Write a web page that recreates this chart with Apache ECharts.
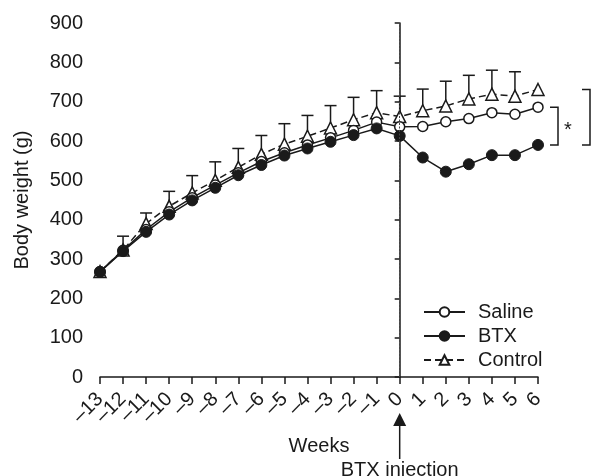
<!DOCTYPE html>
<html>
<head>
<meta charset="utf-8">
<script src="https://cdn.jsdelivr.net/npm/echarts@6/dist/echarts.min.js"></script>
<style>
  html, body { margin: 0; padding: 0; background: #fff; }
  #chart { width: 595px; height: 476px; }
</style>
</head>
<body>
<div id="chart"></div>
<script>
// weeks relative to BTX injection
const weeks = [-13, -12, -11, -10, -9, -8, -7, -6, -5, -4, -3, -2, -1, 0, 1, 2, 3, 4, 5, 6]
const saline = [268, 322, 375, 420, 456, 488, 519, 548, 570, 590, 608, 627, 648, 636, 637, 649, 657, 672, 668, 686]
const btx = [267, 320, 369, 413, 449, 481, 513, 539, 563, 581, 598, 615, 632, 613, 558, 522, 541, 564, 564, 590]
const control = [268, 323, 390, 434, 468, 500, 533, 566, 592, 612, 633, 654, 672, 662, 677, 689, 707, 719, 714, 731]
// top of the error bar for control (null = not drawn)
const controlTop = [null, 358, 417, 472, 512, 547, 581, 614, 644, 665, 690, 711, 728, 714, 732, 752, 767, 780, 776, null]
const yTicks = [0, 100, 200, 300, 400, 500, 600, 700, 800, 900]
const injectionWeek = 0

const font = 'Liberation Sans, Arial, sans-serif'
const black = '#1a1a1a'

const chart = echarts.init(document.getElementById('chart'))

const pts = arr => weeks.map((w, i) => [w, arr[i]])
const fmtWeek = v => (v < 0 ? '\u2013' + (-v) : String(v))

// shared label style for the week axis
const weekLabel = {
  rotate: 45,
  margin: 19,
  fontSize: 20,
  lineHeight: 12,
  color: black,
  fontFamily: font,
  hideOverlap: false
}

const option = {
  animation: false,
  textStyle: { fontFamily: font, color: black },
  grid: { left: 100, right: 57, top: 23, bottom: 99 },
  legend: {
    orient: 'vertical',
    left: 418,
    top: 297,
    itemWidth: 41,
    itemHeight: 12,
    itemGap: 4,
    data: ['Saline', 'BTX', 'Control'],
    textStyle: { fontSize: 20, color: black, fontFamily: font, padding: [0, 0, 0, 8], lineHeight: 20 }
  },
  xAxis: [
    {
      type: 'value',
      position: 'bottom',
      min: weeks[0],
      max: weeks[weeks.length - 1],
      interval: 1,
      name: 'Weeks',
      nameLocation: 'middle',
      nameGap: 59,
      nameTextStyle: { fontSize: 20, color: black, fontFamily: font },
      splitLine: { show: false },
      axisLine: { lineStyle: { color: black, width: 1.5 } },
      axisTick: { length: 7, lineStyle: { color: black, width: 1.5 } },
      axisLabel: Object.assign({}, weekLabel, {
        showMinLabel: true,
        showMaxLabel: true,
        formatter: v => (v === weeks[1] ? '' : fmtWeek(v))
      })
    },
    {
      // second label row so that the second week label is not dropped as overlapping
      type: 'value',
      position: 'bottom',
      min: weeks[0],
      max: weeks[weeks.length - 1],
      interval: 1,
      splitLine: { show: false },
      axisLine: { show: false },
      axisTick: { show: false },
      axisLabel: Object.assign({}, weekLabel, {
        formatter: v => (v === weeks[1] ? fmtWeek(v) : '')
      })
    }
  ],
  yAxis: {
    type: 'value',
    min: yTicks[0],
    max: yTicks[yTicks.length - 1],
    interval: 100,
    name: 'Body weight (g)',
    nameLocation: 'middle',
    nameGap: 68,
    nameTextStyle: { fontSize: 20, color: black, fontFamily: font },
    splitLine: { show: false },
    axisLine: { show: true, lineStyle: { color: black, width: 1.5 } },
    axisTick: { show: true, length: 5, lineStyle: { color: black, width: 1.5 } },
    axisLabel: { fontSize: 20, color: black, fontFamily: font, margin: 17 }
  },
  series: [
    {
      name: 'ControlErr',
      type: 'custom',
      encode: { x: 0, y: 1 },
      z: 1,
      data: weeks.map((w, i) => [w, control[i], controlTop[i]]).filter(d => d[2] != null),
      renderItem: (params, api) => {
        const p0 = api.coord([api.value(0), api.value(1)])
        const p1 = api.coord([api.value(0), api.value(2)])
        const style = { stroke: black, lineWidth: 1.5 }
        return {
          type: 'group',
          children: [
            { type: 'line', shape: { x1: p0[0], y1: p0[1], x2: p1[0], y2: p1[1] }, style },
            { type: 'line', shape: { x1: p1[0] - 6, y1: p1[1], x2: p1[0] + 6, y2: p1[1] }, style }
          ]
        }
      }
    },
    {
      name: 'Control',
      type: 'line',
      z: 2,
      data: pts(control),
      symbol: 'triangle',
      symbolSize: 12,
      lineStyle: { color: black, width: 1.5, type: [7, 4] },
      itemStyle: { color: '#fff', borderColor: black, borderWidth: 1.5 }
    },
    {
      name: 'Saline',
      type: 'line',
      z: 3,
      data: pts(saline),
      symbol: 'circle',
      symbolSize: 10,
      lineStyle: { color: black, width: 1.5 },
      itemStyle: { color: '#fff', borderColor: black, borderWidth: 1.5 }
    },
    {
      name: 'BTX',
      type: 'line',
      z: 4,
      data: pts(btx),
      symbol: 'circle',
      symbolSize: 11,
      lineStyle: { color: black, width: 1.5 },
      itemStyle: { color: black, borderColor: black, borderWidth: 1 },
      markLine: {
        silent: true,
        symbol: 'none',
        label: { show: false },
        lineStyle: { color: '#444', width: 1, type: [2, 1.5] },
        data: [{ xAxis: injectionWeek }]
      }
    },
    {
      // significance brackets at the last week
      name: 'Brackets',
      type: 'custom',
      encode: { x: 0, y: 1 },
      z: 5,
      data: [[weeks[weeks.length - 1], saline[saline.length - 1], btx[btx.length - 1], control[control.length - 1]]],
      renderItem: (params, api) => {
        const x = api.value(0)
        const pS = api.coord([x, api.value(1)])
        const pB = api.coord([x, api.value(2)])
        const pC = api.coord([x, api.value(3)])
        const style = { stroke: black, lineWidth: 1.5, fill: null }
        const ix0 = pS[0] + 12
        const ix1 = ix0 + 8
        const ox0 = pC[0] + 44
        const ox1 = ox0 + 8
        return {
          type: 'group',
          children: [
            { type: 'polyline', shape: { points: [[ix0, pS[1]], [ix1, pS[1]], [ix1, pB[1]], [ix0, pB[1]]] }, style },
            { type: 'polyline', shape: { points: [[ox0, pC[1]], [ox1, pC[1]], [ox1, pB[1]], [ox0, pB[1]]] }, style },
            {
              type: 'text',
              style: {
                x: ix1 + 10, y: (pS[1] + pB[1]) / 2 + 4,
                text: '*', fontSize: 20, fontFamily: font, fill: black,
                align: 'center', verticalAlign: 'middle'
              }
            }
          ]
        }
      }
    },
    {
      // injection arrow below the x axis
      name: 'Injection',
      type: 'custom',
      encode: { x: 0, y: 1 },
      z: 5,
      data: [[injectionWeek, 0]],
      renderItem: (params, api) => {
        const p = api.coord([api.value(0), api.value(1)])
        const tipY = p[1] + 36
        return {
          type: 'group',
          children: [
            { type: 'polygon', shape: { points: [[p[0], tipY], [p[0] - 6.5, tipY + 13], [p[0] + 6.5, tipY + 13]] }, style: { fill: black } },
            { type: 'line', shape: { x1: p[0], y1: tipY + 12, x2: p[0], y2: tipY + 46 }, style: { stroke: black, lineWidth: 1.5 } },
            {
              type: 'text',
              style: {
                x: p[0], y: tipY + 57,
                text: 'BTX injection', fontSize: 20, fontFamily: font, fill: black,
                align: 'center', verticalAlign: 'middle'
              }
            }
          ]
        }
      }
    }
  ]
}

chart.setOption(option)
</script>
</body>
</html>
